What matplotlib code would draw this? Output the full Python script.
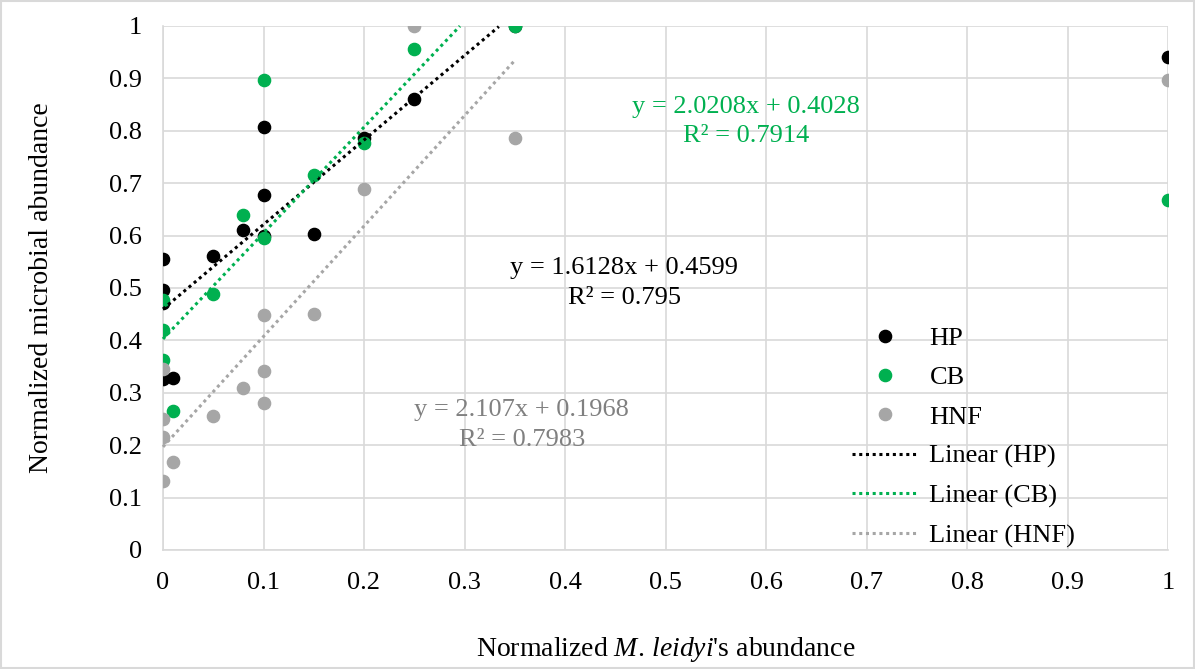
import matplotlib
matplotlib.use("Agg")
import matplotlib.pyplot as plt
from matplotlib.patches import Rectangle
import numpy as np

plt.rcParams['font.family'] = ['Liberation Serif', 'DejaVu Serif']
plt.rcParams['mathtext.fontset'] = 'custom'
plt.rcParams['mathtext.rm'] = 'Liberation Serif'
plt.rcParams['mathtext.it'] = 'Liberation Serif:italic'

# data
hp_x = [0, 0, 0, 0, 0.01, 0.05, 0.08, 0.1, 0.1, 0.1, 0.15, 0.2, 0.25, 0.35, 1.0]
hp_y = [0.555, 0.496, 0.472, 0.326, 0.329, 0.562, 0.610, 0.677, 0.808, 0.600, 0.603, 0.787, 0.861, 1.0, 0.940]

cb_x = [0, 0, 0, 0.01, 0.05, 0.08, 0.1, 0.1, 0.15, 0.2, 0.25, 0.35, 1.0]
cb_y = [0.477, 0.420, 0.363, 0.266, 0.489, 0.640, 0.896, 0.595, 0.715, 0.777, 0.956, 1.0, 0.667]

hnf_x = [0, 0, 0, 0, 0.01, 0.05, 0.08, 0.1, 0.1, 0.1, 0.15, 0.2, 0.25, 0.35, 1.0]
hnf_y = [0.345, 0.250, 0.215, 0.132, 0.167, 0.255, 0.309, 0.341, 0.281, 0.449, 0.451, 0.689, 1.0, 0.786, 0.897]

# trendline coefficients as printed on the chart
hp_fit = (1.6128, 0.4599, 0.795)
cb_fit = (2.0208, 0.4028, 0.7914)
hnf_fit = (2.107, 0.1968, 0.7983)
fit_range = (0, 0.35)

x_ticks = [0, 0.1, 0.2, 0.3, 0.4, 0.5, 0.6, 0.7, 0.8, 0.9, 1]
y_ticks = [0, 0.1, 0.2, 0.3, 0.4, 0.5, 0.6, 0.7, 0.8, 0.9, 1]

BLACK = '#000000'
GREEN = '#00b050'
GREY = '#a6a6a6'
FS = 19

fig = plt.figure(figsize=(11.95, 6.69), dpi=100)
ax = fig.add_axes([163/1195, 1 - 550/669, (1168-163)/1195, (550-26)/669])

ms = 8.8
ax.plot(hp_x, hp_y, 'o', color=BLACK, ms=ms, label='HP', zorder=3)
ax.plot(cb_x, cb_y, 'o', color=GREEN, ms=ms, label='CB', zorder=3)
ax.plot(hnf_x, hnf_y, 'o', color=GREY, ms=ms, label='HNF', zorder=3)

xs = np.linspace(fit_range[0], fit_range[1], 200)
for fit, col, name in [(hp_fit, BLACK, 'Linear (HP)'),
                       (cb_fit, GREEN, 'Linear (CB)'),
                       (hnf_fit, GREY, 'Linear (HNF)')]:
    ys = fit[0] * xs + fit[1]
    keep = ys <= 1.0
    ax.plot(xs[keep], ys[keep], linestyle=(0, (1, 1.2)), color=col, lw=2.2,
            label=name, zorder=4, clip_on=False)

# equations
def eq(fit):
    return 'y = %gx + %g\nR² = %g' % (fit[0], fit[1], fit[2])

ax.text(0.580, 0.818, eq(cb_fit), color=GREEN, fontsize=FS, ha='center', va='center',
        multialignment='center', linespacing=1.45)
ax.text(0.459, 0.510, eq(hp_fit), color=BLACK, fontsize=FS, ha='center', va='center',
        multialignment='center', linespacing=1.45)
ax.text(0.357, 0.238, eq(hnf_fit), color='#808080', fontsize=FS, ha='center', va='center',
        multialignment='center', linespacing=1.45)

ax.set_xlim(0, 1)
ax.set_ylim(0, 1)
ax.set_xticks(x_ticks)
ax.set_yticks(y_ticks)
ax.set_xticklabels([('%g' % t) for t in x_ticks])
ax.set_yticklabels([('%g' % t) for t in y_ticks])
ax.tick_params(length=0, labelsize=FS)
ax.tick_params(axis='x', pad=16)
ax.tick_params(axis='y', pad=15)
ax.grid(True, color='#d9d9d9', lw=1.2)
ax.set_axisbelow(True)
for side in ['top', 'right']:
    ax.spines[side].set_visible(False)
for side in ['left', 'bottom']:
    ax.spines[side].set_color('#d9d9d9')
    ax.spines[side].set_linewidth(1.2)

ax.set_ylabel('Normalized microbial abundance', fontsize=FS + 1, labelpad=40)
ax.set_xlabel("Normalized $\\mathit{M.}\\,\\mathit{leidyi}$'s abundance", fontsize=FS + 1,
              labelpad=29)

leg = ax.legend(loc='upper left', bbox_to_anchor=((841 - 163) / 1005, (550 - 316) / 524),
                frameon=False, fontsize=FS, labelspacing=0.6, handlelength=2.5,
                handletextpad=0.45, borderaxespad=0)

fig.patches.append(Rectangle((0.001, 0.001), 0.998, 0.997, transform=fig.transFigure,
                             fill=False, edgecolor='#d9d9d9', lw=1.5))

fig.savefig('out.png', dpi=100)
